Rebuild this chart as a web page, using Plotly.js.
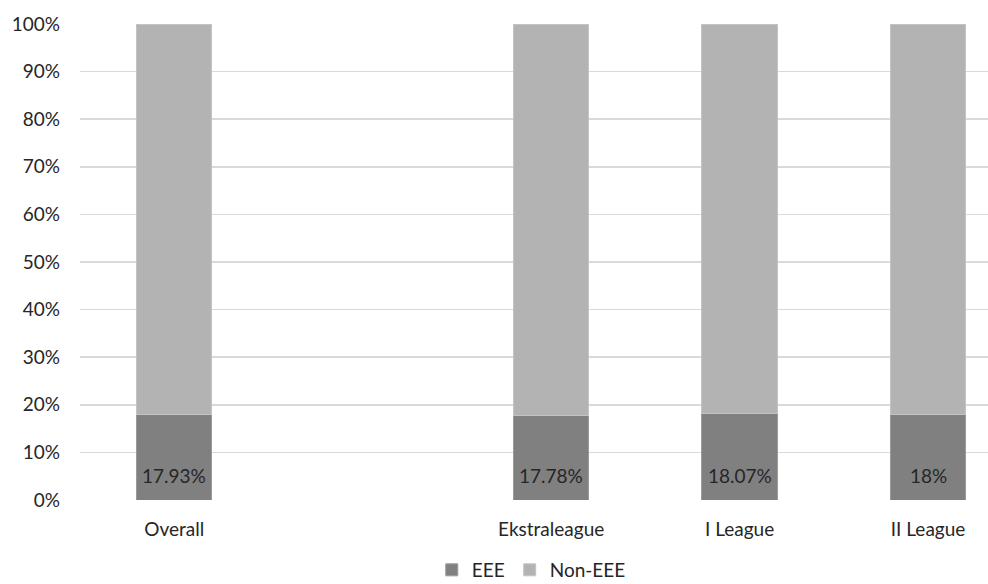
<!DOCTYPE html>
<html>
<head>
<meta charset="utf-8">
<script src="https://cdn.plot.ly/plotly-3.0.1.min.js"></script>
<style>html,body{margin:0;padding:0;background:#fff;}#chart{width:988px;height:584px;}</style>
</head>
<body>
<div id="chart"></div>
<script>
const categories = ["Overall", " ", "Ekstraleague", "I League", "II League"];
const eee = [0.1793, null, 0.1778, 0.1807, 0.18];
const nonEee = [0.8207, null, 0.8222, 0.8193, 0.82];
const eeeLabels = ["17.93%", "", "17.78%", "18.07%", "18%"];
const seriesNames = ["EEE", "Non-EEE"];

const FONT = "Lato, 'Open Sans', sans-serif";
const FS = 19;

const traces = [
  {type: "bar", name: seriesNames[0], x: categories, y: eee,
   marker: {color: "#808080", line: {color: "#9a9a9a", width: 1}}, width: 0.4, hoverinfo: "skip"},
  {type: "bar", name: seriesNames[1], x: categories, y: nonEee,
   marker: {color: "#b3b3b3", line: {color: "#c4c4c4", width: 1}}, width: 0.4, hoverinfo: "skip"}
];

const annotations = categories.map((c, i) => ({
  x: c, y: 0, xref: "x", yref: "y", text: eeeLabels[i], showarrow: false,
  yanchor: "bottom", yshift: 11, font: {family: FONT, size: FS, color: "#262626"}
})).filter(a => a.text !== "");

const layout = {
  width: 988, height: 584,
  margin: {l: 80, r: 0, t: 24, b: 84},
  barmode: "stack",
  paper_bgcolor: "#fff", plot_bgcolor: "#fff",
  font: {family: FONT, size: FS, color: "#262626"},
  showlegend: true,
  legend: {orientation: "h", xref: "container", yref: "container", x: 0.437, xanchor: "left",
           y: 0.024, yanchor: "middle", itemwidth: 30,
           font: {family: FONT, size: FS, color: "#262626"}, traceorder: "normal"},
  xaxis: {type: "category", range: [-0.5, 4.318], showgrid: false, zeroline: false, automargin: false,
          showline: false, ticks: "", ticklen: 0, ticklabelstandoff: 16,
          tickfont: {family: FONT, size: FS, color: "#262626"}},
  yaxis: {range: [0, 1], dtick: 0.1, tickformat: ".0%", showgrid: true, gridcolor: "#d9d9d9",
          gridwidth: 1.5, zeroline: false, showline: false, ticks: "", automargin: false,
          ticklabelstandoff: 19,
          tickfont: {family: FONT, size: FS, color: "#262626"}},
  annotations: annotations
};

Plotly.newPlot("chart", traces, layout, {displayModeBar: false, staticPlot: true});
</script>
</body>
</html>
